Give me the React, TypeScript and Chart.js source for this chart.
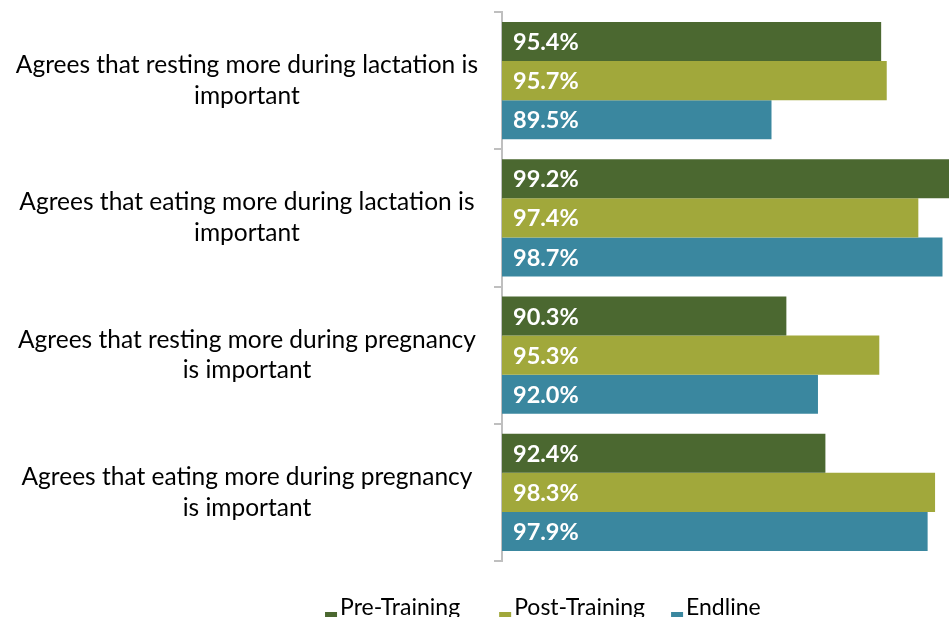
import React, { useEffect, useRef } from 'react';
import { Chart, registerables } from 'chart.js';

Chart.register(...registerables);

const categories: string[][] = [
  ['Agrees that resting more during lactation is', 'important'],
  ['Agrees that eating more during lactation is', 'important'],
  ['Agrees that resting more during pregnancy', 'is important'],
  ['Agrees that eating more during pregnancy', 'is important'],
];
const seriesNames = ['Pre-Training', 'Post-Training', 'Endline'];
const preTraining = [95.4, 99.2, 90.3, 92.4];
const postTraining = [95.7, 97.4, 95.3, 98.3];
const endline = [89.5, 98.7, 92.0, 97.9];
const seriesColors = ['#4b6830', '#a1a83b', '#3a879f'];

const X_MIN = 75;
const X_MAX = 99.05;

const FONT = 'Lato, sans-serif';

const valueLabels = {
  id: 'valueLabels',
  afterDraw(chart: any) {
    const ctx = chart.ctx;
    try {
      ctx.save();
      ctx.font = 'bold 23.5px ' + FONT;
      ctx.fillStyle = '#ffffff';
      ctx.textBaseline = 'middle';
      ctx.textAlign = 'left';
      const x0 = chart.scales.x.getPixelForValue(X_MIN) + 11;
      chart.data.datasets.forEach((ds: any, i: number) => {
        const meta = chart.getDatasetMeta(i);
        meta.data.forEach((el: any, j: number) => {
          const v = Number(ds.data[j]);
          ctx.fillText(v.toFixed(1) + '%', x0, el.y + 1);
        });
      });
    } catch (e) {
      // ignore
    }
    ctx.restore();
  },
};

const customLegend = {
  id: 'customLegend',
  afterDraw(chart: any) {
    const ctx = chart.ctx;
    ctx.save();
    ctx.font = '23px ' + FONT;
    ctx.textBaseline = 'alphabetic';
    ctx.textAlign = 'left';
    const box = 12;
    const gapBoxText = 3;
    const gaps = [39, 26];
    const widths = seriesNames.map((n) => ctx.measureText(n).width);
    let x = chart.width * 0.3425;
    const baseline = chart.chartArea.bottom + 54;
    seriesNames.forEach((name, i) => {
      ctx.fillStyle = seriesColors[i];
      ctx.fillRect(x, baseline - 3, box, box);
      ctx.fillStyle = '#000000';
      ctx.fillText(name, x + box + gapBoxText, baseline);
      x += box + gapBoxText + widths[i] + (gaps[i] || 0);
    });
    ctx.restore();
  },
};

export default function App() {
  const canvasRef = useRef<HTMLCanvasElement | null>(null);

  useEffect(() => {
    document.body.style.margin = '0';
    document.body.style.overflow = 'hidden';
    document.documentElement.style.overflow = 'hidden';
    const canvas = canvasRef.current;
    if (!canvas) return;
    const seriesData = [preTraining, postTraining, endline];
    const chart = new Chart(canvas, {
      type: 'bar',
      data: {
        labels: categories,
        datasets: seriesNames.map((name, i) => ({
          label: name,
          data: seriesData[i],
          backgroundColor: seriesColors[i],
          borderWidth: 0,
          barPercentage: 1,
          categoryPercentage: 0.855,
        })),
      },
      options: {
        indexAxis: 'y',
        animation: false,
        responsive: true,
        maintainAspectRatio: false,
        layout: { padding: { top: 12, left: 0, right: 0, bottom: 56 } },
        scales: {
          x: {
            min: X_MIN,
            max: X_MAX,
            display: false,
          },
          y: {
            grid: {
              offset: true,
              drawOnChartArea: false,
              drawTicks: true,
              tickLength: 8,
              color: '#bfbfbf',
              lineWidth: 2,
            },
            border: { display: true, color: '#bfbfbf', width: 2 },
            ticks: {
              crossAlign: 'center',
              padding: 16,
              color: '#000000',
              font: { family: FONT, size: 24.5, lineHeight: 1.25 },
            },
            afterFit(scale: any) {
              scale.width = 502;
              scale.paddingTop = 0;
              scale.paddingBottom = 0;
            },
          },
        },
        plugins: {
          legend: { display: false },
          tooltip: { enabled: false },
        },
      } as any,
      plugins: [valueLabels, customLegend],
    });
    return () => {
      chart.destroy();
    };
  }, []);

  return (
    <div style={{ position: 'relative', width: '949px', height: '617px' }}>
      <canvas ref={canvasRef} />
    </div>
  );
}
